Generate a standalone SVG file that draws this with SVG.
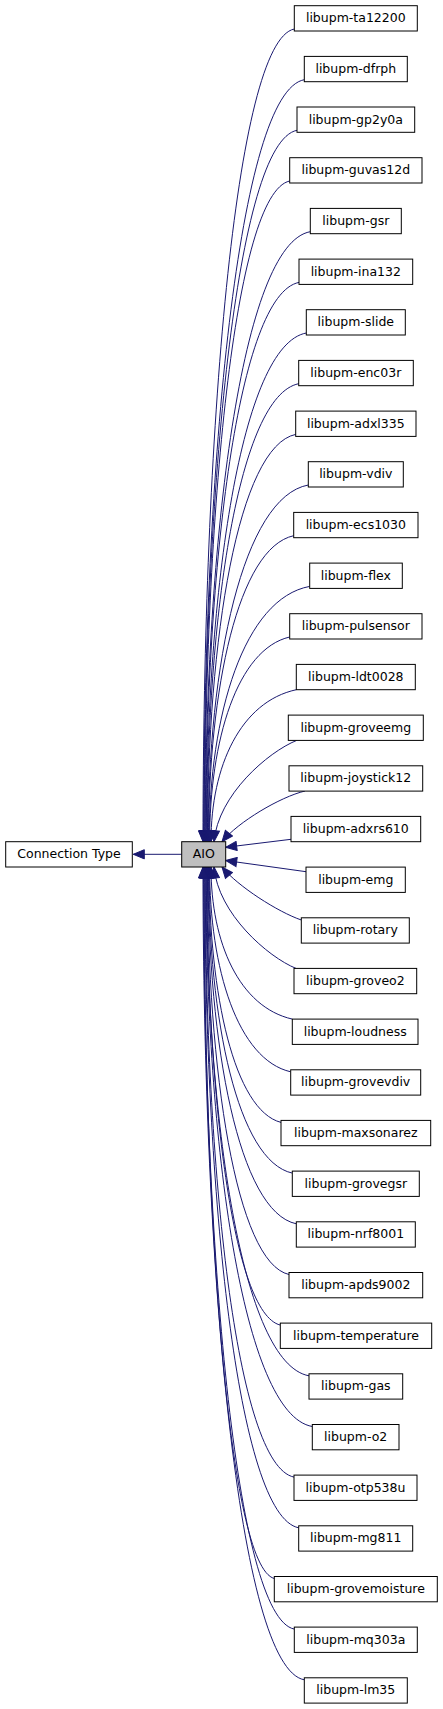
<svg xmlns="http://www.w3.org/2000/svg" width="443" height="1709" viewBox="0 0 443 1709">
<style>
.n rect{fill:#fff;stroke:#000;stroke-width:1}
.n.hl rect{fill:#bfbfbf}
.n text{font-family:"DejaVu Sans","Liberation Sans",sans-serif;font-size:12.5px;text-anchor:middle;fill:#000}
.e path{fill:none;stroke:#191970;stroke-width:1;marker-end:url(#arr)}
</style>
<defs>
<marker id="arr" markerUnits="userSpaceOnUse" viewBox="-1 -1 13 11" refX="11" refY="4.6" markerWidth="13" markerHeight="11" orient="auto">
<path d="M0,0 L11,4.6 L0,9.2 z" fill="#191970" stroke="#191970" stroke-width="1"/>
</marker>
</defs>
<rect width="443" height="1709" fill="#fff"/>
<g id="edges" class="e">
<path d="M181.7,854.3 L133.3,854.3"/>
<path d="M294.3,29 C235,41 203,435.4 203,841.7"/>
<path d="M304.3,79.7 C238.8,91.7 203.6,460.7 203.6,841.7"/>
<path d="M297,130.3 C236.6,142.3 204.1,486 204.1,841.7"/>
<path d="M289.7,181 C234.5,193 204.7,511.4 204.7,841.7"/>
<path d="M310.3,231.7 C242,243.7 205.2,536.7 205.2,841.7"/>
<path d="M299,282.4 C238.4,294.4 205.8,562 205.8,841.7"/>
<path d="M306.3,333 C241.3,345 206.3,587.4 206.3,841.7"/>
<path d="M298.7,383.7 C239,395.7 206.9,612.7 206.9,841.7"/>
<path d="M295.7,434.4 C238.3,446.4 207.4,638 207.4,841.7"/>
<path d="M308.3,485 C243.1,497 208,663.4 208,841.7"/>
<path d="M293.7,535.7 C238.3,547.7 208.5,688.7 208.5,841.7"/>
<path d="M309.7,586.4 C244.3,598.4 209.1,714 209.1,841.7"/>
<path d="M289.7,637 C237.6,649 209.6,739.4 209.6,841.7"/>
<path d="M296.3,689.7 C240.9,701.7 211,765.7 211,841.7"/>
<path d="M296.7,740.4 C268,752 218,795 214,841.7"/>
<path d="M305,791 C280,797 238,822 222,841.7"/>
<path d="M291,839.3 L225.7,847.3"/>
<path d="M306,871.7 L225.7,860.5"/>
<path d="M301.3,920 C278,912 238,886.5 222,867"/>
<path d="M296,968.4 C268,957 218,913.7 214,867"/>
<path d="M292.3,1019.1 C239.5,1007.1 211,943 211,867"/>
<path d="M290.7,1071.8 C238,1059.8 209.6,969.4 209.6,867"/>
<path d="M281,1122.4 C234.3,1110.4 209.1,994.7 209.1,867"/>
<path d="M292.3,1173.1 C237.8,1161.1 208.5,1020.1 208.5,867"/>
<path d="M296.3,1223.8 C238.9,1211.8 208,1045.4 208,867"/>
<path d="M289,1274.5 C236,1262.5 207.4,1070.7 207.4,867"/>
<path d="M280.3,1325.1 C232.6,1313.1 206.9,1096.1 206.9,867"/>
<path d="M309,1375.8 C242.2,1363.8 206.3,1121.4 206.3,867"/>
<path d="M312.3,1426.5 C243.1,1414.5 205.8,1146.7 205.8,867"/>
<path d="M294,1477.1 C236.3,1465.1 205.2,1172.1 205.2,867"/>
<path d="M298.7,1527.8 C237.6,1515.8 204.7,1197.4 204.7,867"/>
<path d="M274.3,1578.5 C228.7,1566.5 204.1,1222.7 204.1,867"/>
<path d="M294.3,1629.1 C235.3,1617.1 203.6,1248.1 203.6,867"/>
<path d="M304.3,1679.8 C238.5,1667.8 203,1273.4 203,867"/>
</g>
<g id="node-connection-type" class="n"><rect x="5.7" y="841.7" width="126.6" height="25.3"/><text x="69" y="858.3">Connection Type</text></g>
<g id="node-aio" class="n hl"><rect x="181.7" y="841.7" width="44" height="25.3"/><text x="203.7" y="858.3">AIO</text></g>
<g id="node-ta12200" class="n"><rect x="294.3" y="5.7" width="123" height="25.3"/><text x="355.8" y="22.3">libupm-ta12200</text></g>
<g id="node-dfrph" class="n"><rect x="304.3" y="56.4" width="103" height="25.3"/><text x="355.8" y="73">libupm-dfrph</text></g>
<g id="node-gp2y0a" class="n"><rect x="297" y="107" width="117.7" height="25.3"/><text x="355.8" y="123.6">libupm-gp2y0a</text></g>
<g id="node-guvas12d" class="n"><rect x="289.7" y="157.7" width="132.3" height="25.3"/><text x="355.8" y="174.3">libupm-guvas12d</text></g>
<g id="node-gsr" class="n"><rect x="310.3" y="208.4" width="91" height="25.3"/><text x="355.8" y="225">libupm-gsr</text></g>
<g id="node-ina132" class="n"><rect x="299" y="259.1" width="113.7" height="25.3"/><text x="355.8" y="275.7">libupm-ina132</text></g>
<g id="node-slide" class="n"><rect x="306.3" y="309.7" width="99" height="25.3"/><text x="355.8" y="326.3">libupm-slide</text></g>
<g id="node-enc03r" class="n"><rect x="298.7" y="360.4" width="114.6" height="25.3"/><text x="355.8" y="377">libupm-enc03r</text></g>
<g id="node-adxl335" class="n"><rect x="295.7" y="411.1" width="120.3" height="25.3"/><text x="355.8" y="427.7">libupm-adxl335</text></g>
<g id="node-vdiv" class="n"><rect x="308.3" y="461.7" width="95" height="25.3"/><text x="355.8" y="478.3">libupm-vdiv</text></g>
<g id="node-ecs1030" class="n"><rect x="293.7" y="512.4" width="124.3" height="25.3"/><text x="355.8" y="529">libupm-ecs1030</text></g>
<g id="node-flex" class="n"><rect x="309.7" y="563.1" width="92.6" height="25.3"/><text x="355.8" y="579.7">libupm-flex</text></g>
<g id="node-pulsensor" class="n"><rect x="289.7" y="613.7" width="132.3" height="25.3"/><text x="355.8" y="630.3">libupm-pulsensor</text></g>
<g id="node-ldt0028" class="n"><rect x="296.3" y="664.4" width="119" height="25.3"/><text x="355.8" y="681">libupm-ldt0028</text></g>
<g id="node-groveemg" class="n"><rect x="288.3" y="715.1" width="135" height="25.3"/><text x="355.8" y="731.7">libupm-groveemg</text></g>
<g id="node-joystick12" class="n"><rect x="289" y="765.8" width="133.7" height="25.3"/><text x="355.8" y="782.4">libupm-joystick12</text></g>
<g id="node-adxrs610" class="n"><rect x="291" y="816.4" width="129.7" height="25.3"/><text x="355.8" y="833">libupm-adxrs610</text></g>
<g id="node-emg" class="n"><rect x="306" y="867.1" width="99.3" height="25.3"/><text x="355.8" y="883.7">libupm-emg</text></g>
<g id="node-rotary" class="n"><rect x="301.3" y="917.8" width="108" height="25.3"/><text x="355.3" y="934.4">libupm-rotary</text></g>
<g id="node-groveo2" class="n"><rect x="294" y="968.4" width="122.7" height="25.3"/><text x="355.4" y="985">libupm-groveo2</text></g>
<g id="node-loudness" class="n"><rect x="292.3" y="1019.1" width="125.7" height="25.3"/><text x="355.2" y="1035.7">libupm-loudness</text></g>
<g id="node-grovevdiv" class="n"><rect x="290.7" y="1069.8" width="130" height="25.3"/><text x="355.7" y="1086.4">libupm-grovevdiv</text></g>
<g id="node-maxsonarez" class="n"><rect x="281" y="1120.4" width="149.7" height="25.3"/><text x="355.8" y="1137">libupm-maxsonarez</text></g>
<g id="node-grovegsr" class="n"><rect x="292.3" y="1171.1" width="127" height="25.3"/><text x="355.8" y="1187.7">libupm-grovegsr</text></g>
<g id="node-nrf8001" class="n"><rect x="296.3" y="1221.8" width="119" height="25.3"/><text x="355.8" y="1238.4">libupm-nrf8001</text></g>
<g id="node-apds9002" class="n"><rect x="289" y="1272.5" width="133.7" height="25.3"/><text x="355.8" y="1289.1">libupm-apds9002</text></g>
<g id="node-temperature" class="n"><rect x="280.3" y="1323.1" width="151.4" height="25.3"/><text x="356" y="1339.7">libupm-temperature</text></g>
<g id="node-gas" class="n"><rect x="309" y="1373.8" width="93.7" height="25.3"/><text x="355.8" y="1390.4">libupm-gas</text></g>
<g id="node-o2" class="n"><rect x="312.3" y="1424.5" width="86.7" height="25.3"/><text x="355.7" y="1441.1">libupm-o2</text></g>
<g id="node-otp538u" class="n"><rect x="294" y="1475.1" width="123" height="25.3"/><text x="355.5" y="1491.7">libupm-otp538u</text></g>
<g id="node-mg811" class="n"><rect x="298.7" y="1525.8" width="114" height="25.3"/><text x="355.7" y="1542.4">libupm-mg811</text></g>
<g id="node-grovemoisture" class="n"><rect x="274.3" y="1576.5" width="163" height="25.3"/><text x="355.8" y="1593.1">libupm-grovemoisture</text></g>
<g id="node-mq303a" class="n"><rect x="294.3" y="1627.1" width="123" height="25.3"/><text x="355.8" y="1643.7">libupm-mq303a</text></g>
<g id="node-lm35" class="n"><rect x="304.3" y="1677.8" width="103" height="25.3"/><text x="355.8" y="1694.4">libupm-lm35</text></g>
</svg>
